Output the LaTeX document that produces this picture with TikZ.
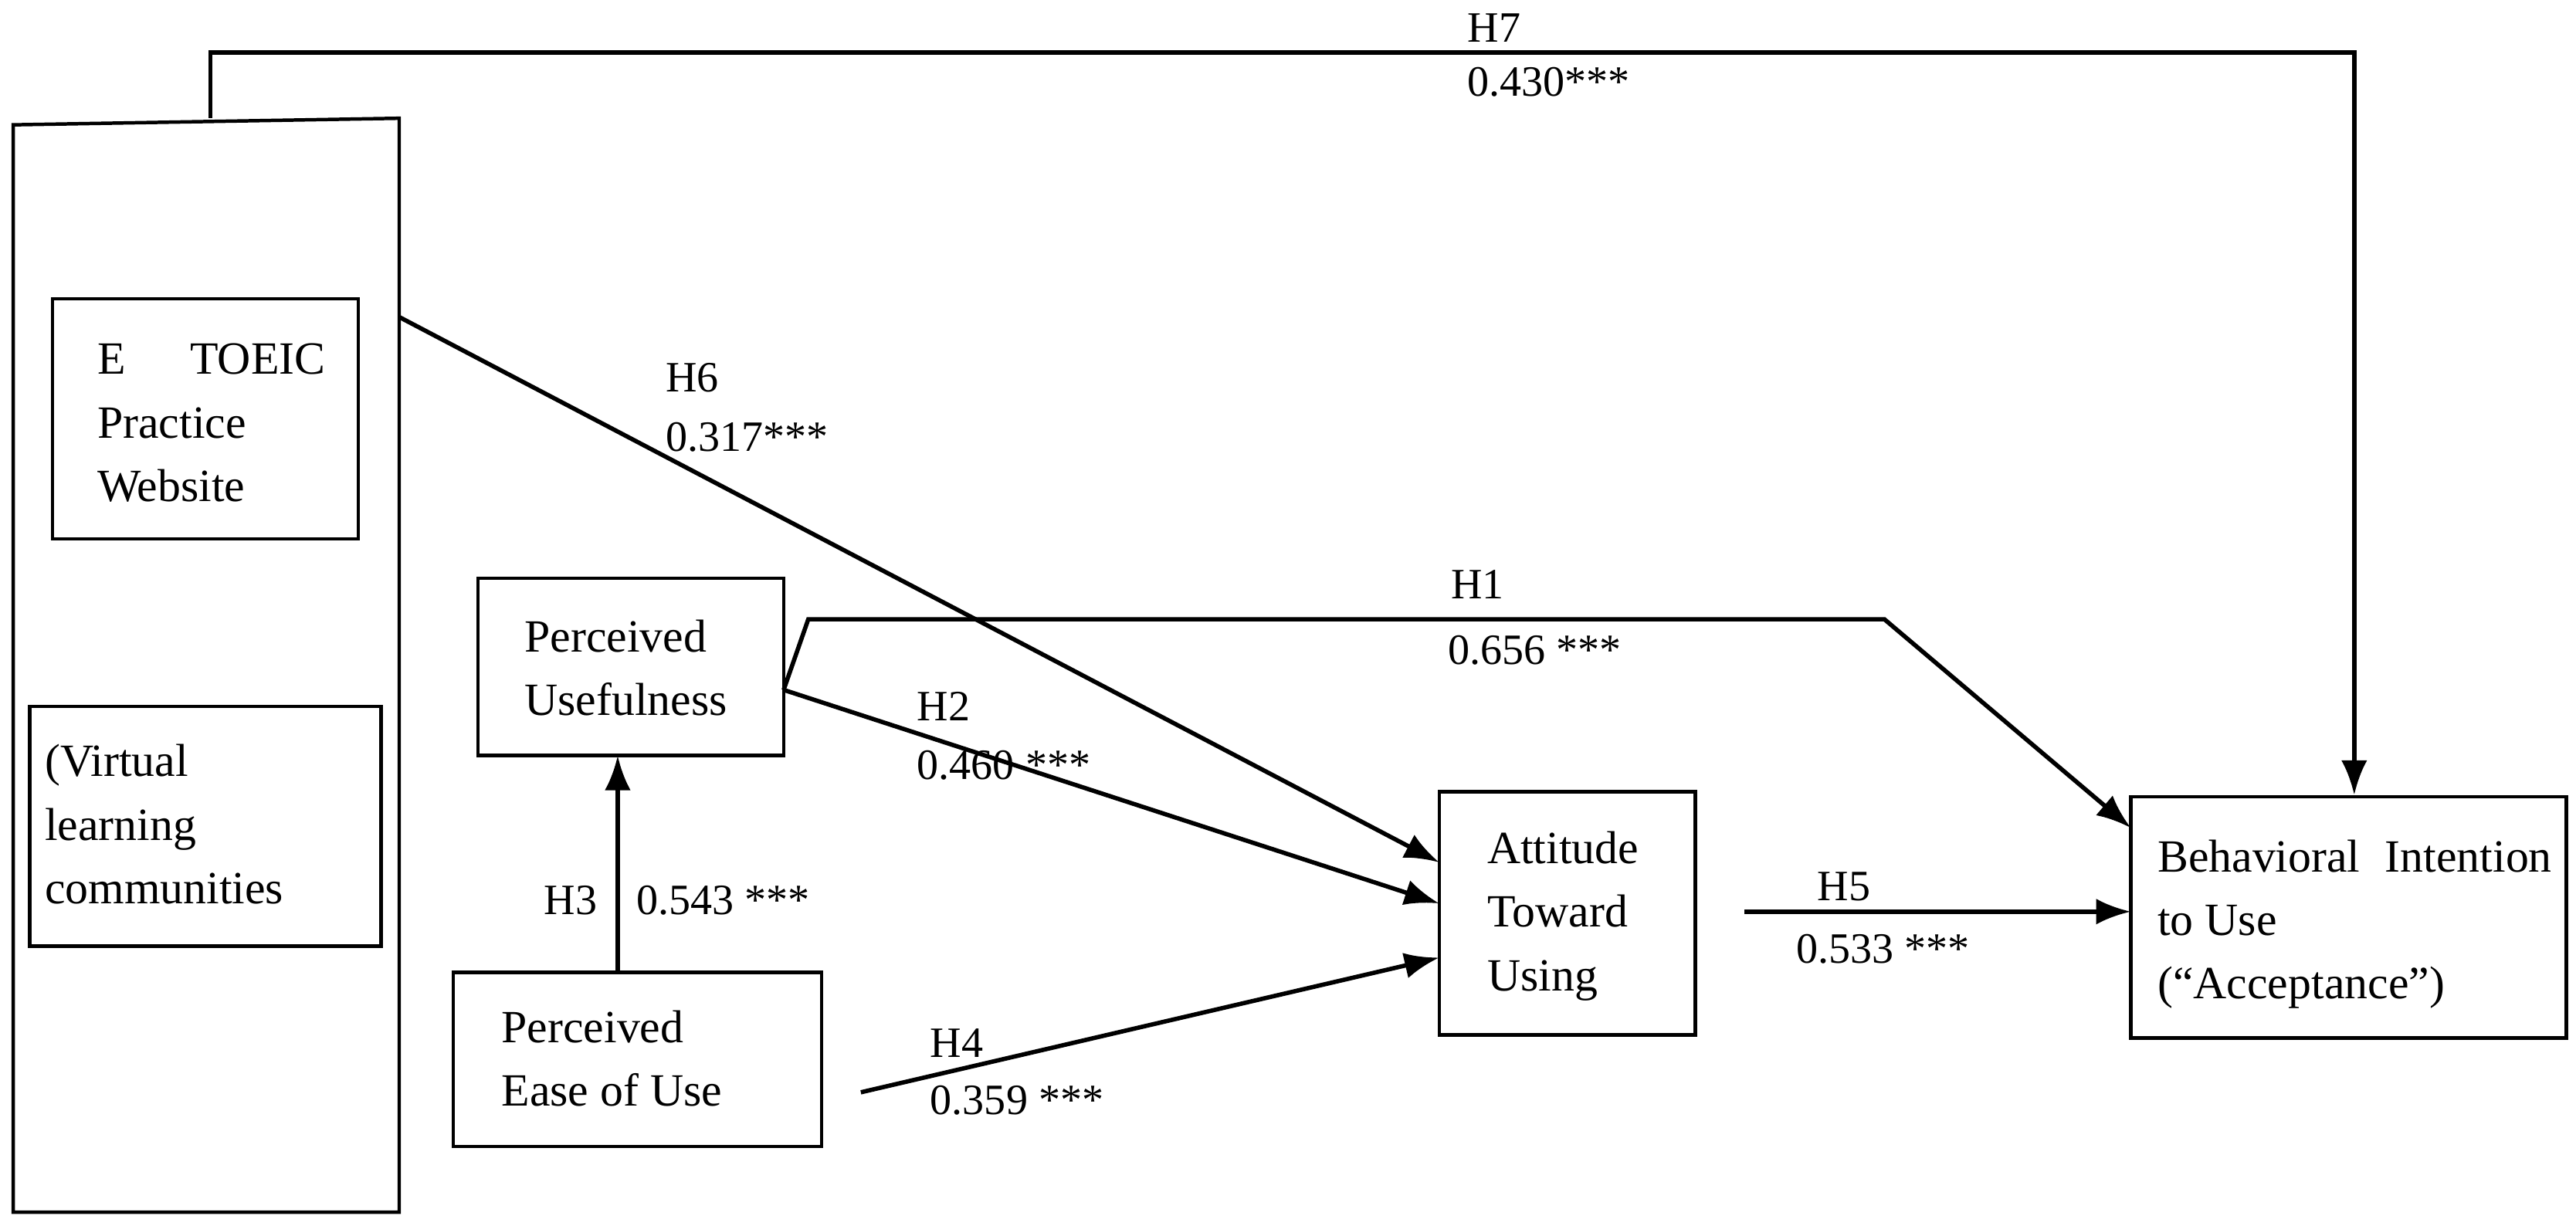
\documentclass[tikz,border=0pt]{standalone}
\usepackage{fontspec}
\setmainfont{Liberation Serif}
\usetikzlibrary{arrows.meta}
\begin{document}
\begin{tikzpicture}[x=0.02cm,y=-0.02cm,line width=1.5pt,
  box/.style={draw,line width=1.2pt,inner sep=0pt},
  txt/.style={font=\fontsize{16}{22}\selectfont,align=left,anchor=north west,inner sep=0pt},
  lab/.style={font=\fontsize{15}{18}\selectfont,anchor=west,inner sep=0pt},
  arr/.style={-{Latex[length=12pt,width=9pt]}}]
\useasboundingbox (0,0) rectangle (1568,746);
\draw[line width=1.2pt] (8,738) -- (8,76) -- (243,72) -- (243,738) -- cycle;
\node[box,minimum width=186*0.02cm,minimum height=146*0.02cm] (et) at (125,255) {};
\node[txt] at (58,208) {E\hspace{1.4em}TOEIC\\Practice\\Website};
\node[box,minimum width=214*0.02cm,minimum height=146*0.02cm] (vl) at (125,503) {};
\node[txt] at (26,452) {(Virtual\\learning\\communities};
\node[box,minimum width=186*0.02cm,minimum height=108*0.02cm] (pu) at (384,406) {};
\node[txt] at (318,376) {Perceived\\Usefulness};
\node[box,minimum width=224*0.02cm,minimum height=106*0.02cm] (pe) at (388,645) {};
\node[txt] at (304,614) {Perceived\\Ease of Use};
\node[box,minimum width=156*0.02cm,minimum height=148*0.02cm] (at) at (954,556) {};
\node[txt] at (904,505) {Attitude\\Toward\\Using};
\node[box,minimum width=265*0.02cm,minimum height=147*0.02cm] (bi) at (1429.5,558.5) {};
\node[txt,text width=240*0.02cm,align=justify] at (1312,510) {Behavioral Intention to Use\\(``Acceptance'')};
\coordinate (h7a) at (128,72);
\coordinate (h1a) at (477,420);
\coordinate (h4a) at (524,665);
\coordinate (h5a) at (1062,555);
\coordinate (h6a) at (243,193);
\draw[arr] (h7a) -- (128,32) -- (1433,32) -- (1433,484);
\draw[arr] (h6a) -- (876,525);
\draw[arr] (h1a) -- (492,377) -- (1147,377) -- (1297,504);
\draw[arr] (h1a) -- (876,550);
\draw[arr] (376,592) -- (376,460);
\draw[arr] (h4a) -- (876,583);
\draw[arr] (h5a) -- (1297,555);
\node[lab] at (892,17) {H7};
\node[lab] at (892,50) {0.430***};
\node[lab] at (404,230) {H6};
\node[lab] at (404,266) {0.317***};
\node[lab] at (882,356) {H1};
\node[lab] at (880,396) {0.656 ***};
\node[lab] at (557,430) {H2};
\node[lab] at (557,466) {0.460 ***};
\node[lab] at (330,548) {H3};
\node[lab] at (386,548) {0.543 ***};
\node[lab] at (565,635) {H4};
\node[lab] at (565,670) {0.359 ***};
\node[lab] at (1105,540) {H5};
\node[lab] at (1092,578) {0.533 ***};
\end{tikzpicture}
\end{document}
